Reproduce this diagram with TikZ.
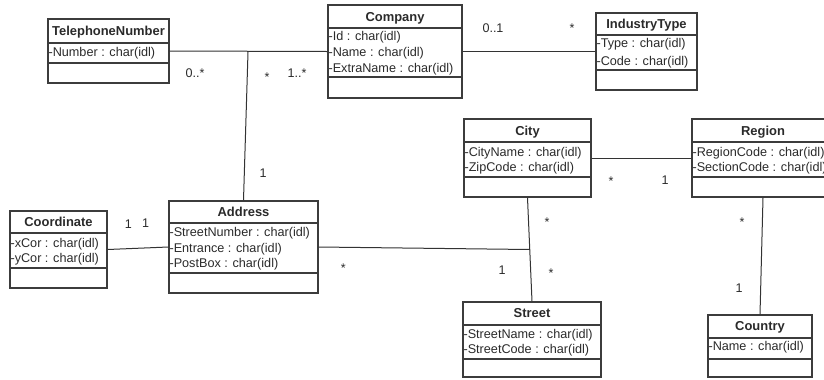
\documentclass[tikz,border=0pt]{standalone}
\usepackage{fontspec}
\setmainfont{Liberation Sans}
\usetikzlibrary{fit,calc}
\definecolor{boxgray}{HTML}{3C3C3C}
\definecolor{linegray}{HTML}{333333}
\definecolor{txt}{HTML}{2A2A2A}
\begin{document}
\begin{tikzpicture}[x=1bp,y=-1bp,
  classbox/.style={draw=boxgray, line width=1.3bp, inner sep=0pt},
  sepline/.style={draw=boxgray, line width=1.2bp},
  title/.style={font=\fontsize{13}{15}\selectfont\bfseries, text=txt, anchor=base, inner sep=0pt},
  attr/.style={font=\fontsize{12.7}{14}\selectfont, text=txt, anchor=base west, inner sep=0pt},
  mult/.style={font=\fontsize{12.6}{14}\selectfont, text=txt, anchor=base, inner sep=0pt},
  assoc/.style={draw=linegray, line width=1bp}]
\clip (0,0) rectangle (824,379);

% ---------- classes: frame, title, compartments, attributes ----------
% TelephoneNumber
\node[classbox, fit={(48,19) (169,83)}] (tel) {};
\node[title] (telT) at (tel.north |- 0,35.5) {TelephoneNumber};
\draw[sepline] (tel.west |- 0,43) -- (tel.east |- 0,43);
\draw[sepline] (tel.west |- 0,63) -- (tel.east |- 0,63);
\node[attr] (telA1) at ($(tel.west |- 0,56.5)+(1,0)$) {-Number : char(idl)};

% Company
\node[classbox, fit={(328,5) (462,98)}] (company) {};
\node[title] (companyT) at (company.north |- 0,21) {Company};
\draw[sepline] (company.west |- 0,28) -- (company.east |- 0,28);
\draw[sepline] (company.west |- 0,77) -- (company.east |- 0,77);
\node[attr] (companyA1) at ($(company.west |- 0,40)+(1,0)$) {-Id : char(idl)};
\node[attr] (companyA2) at ($(company.west |- 0,56.5)+(1,0)$) {-Name : char(idl)};
\node[attr] (companyA3) at ($(company.west |- 0,72.5)+(1,0)$) {-ExtraName : char(idl)};

% IndustryType
\node[classbox, fit={(596,13) (697,90)}] (industry) {};
\node[title] (industryT) at (industry.north |- 0,28.5) {IndustryType};
\draw[sepline] (industry.west |- 0,35) -- (industry.east |- 0,35);
\draw[sepline] (industry.west |- 0,70) -- (industry.east |- 0,70);
\node[attr] (industryA1) at ($(industry.west |- 0,47.5)+(1,0)$) {-Type : char(idl)};
\node[attr] (industryA2) at ($(industry.west |- 0,65)+(1,0)$) {-Code : char(idl)};

% City
\node[classbox, fit={(464,119) (591,197)}] (city) {};
\node[title] (cityT) at (city.north |- 0,135) {City};
\draw[sepline] (city.west |- 0,142) -- (city.east |- 0,142);
\draw[sepline] (city.west |- 0,177) -- (city.east |- 0,177);
\node[attr] (cityA1) at ($(city.west |- 0,156.5)+(1,0)$) {-CityName : char(idl)};
\node[attr] (cityA2) at ($(city.west |- 0,171.5)+(1,0)$) {-ZipCode : char(idl)};

% Region (runs past the right edge)
\node[classbox, fit={(692,119) (834,197)}] (region) {};
\node[title] (regionT) at (region.north |- 0,135) {Region};
\draw[sepline] (region.west |- 0,142) -- (region.east |- 0,142);
\draw[sepline] (region.west |- 0,177) -- (region.east |- 0,177);
\node[attr] (regionA1) at ($(region.west |- 0,156.5)+(1,0)$) {-RegionCode : char(idl)};
\node[attr] (regionA2) at ($(region.west |- 0,171.5)+(1,0)$) {-SectionCode : char(idl)};

% Coordinate
\node[classbox, fit={(10,211) (107,288)}] (coord) {};
\node[title] (coordT) at (coord.north |- 0,226.5) {Coordinate};
\draw[sepline] (coord.west |- 0,233) -- (coord.east |- 0,233);
\draw[sepline] (coord.west |- 0,268) -- (coord.east |- 0,268);
\node[attr] (coordA1) at ($(coord.west |- 0,247)+(1,0)$) {-xCor : char(idl)};
\node[attr] (coordA2) at ($(coord.west |- 0,262.5)+(1,0)$) {-yCor : char(idl)};

% Address
\node[classbox, fit={(169,201) (318,293)}] (address) {};
\node[title] (addressT) at (address.north |- 0,216) {Address};
\draw[sepline] (address.west |- 0,223) -- (address.east |- 0,223);
\draw[sepline] (address.west |- 0,273) -- (address.east |- 0,273);
\node[attr] (addressA1) at ($(address.west |- 0,236.5)+(1,0)$) {-StreetNumber : char(idl)};
\node[attr] (addressA2) at ($(address.west |- 0,252)+(1,0)$) {-Entrance : char(idl)};
\node[attr] (addressA3) at ($(address.west |- 0,267)+(1,0)$) {-PostBox : char(idl)};

% Street
\node[classbox, fit={(463,302) (601,377)}] (street) {};
\node[title] (streetT) at (street.north |- 0,317) {Street};
\draw[sepline] (street.west |- 0,325) -- (street.east |- 0,325);
\draw[sepline] (street.west |- 0,359) -- (street.east |- 0,359);
\node[attr] (streetA1) at ($(street.west |- 0,338.5)+(1,0)$) {-StreetName : char(idl)};
\node[attr] (streetA2) at ($(street.west |- 0,353.5)+(1,0)$) {-StreetCode : char(idl)};

% Country
\node[classbox, fit={(708,315) (812,377)}] (country) {};
\node[title] (countryT) at (country.north |- 0,330.5) {Country};
\draw[sepline] (country.west |- 0,338) -- (country.east |- 0,338);
\draw[sepline] (country.west |- 0,359) -- (country.east |- 0,359);
\node[attr] (countryA1) at ($(country.west |- 0,350)+(1,0)$) {-Name : char(idl)};

% ---------- associations ----------
\coordinate (telJoin) at (248,52);
\draw[assoc] (tel.east) -- (company.west);
\draw[assoc] (telJoin) -- (address.north);
\draw[assoc] (company.east) -- (industry.west);
\draw[assoc] (city.east) -- (region.west);
\coordinate (streetJoin) at ($(city.south)!0.5!(street.north)$);
\draw[assoc] (city.south) -- (street.north);
\draw[assoc] (address.east) -- (streetJoin);
\draw[assoc] (coord.east) -- (address.west);
\draw[assoc] (region.south) -- (country.north);

% ---------- multiplicities ----------
\node[mult] (m1) at (195,77.3) {0..*};
\node[mult] (m2) at (267,81) {*};
\node[mult] (m3) at (297,77.3) {1..*};
\node[mult] (m4) at (263,177.5) {1};
\node[mult] (m5) at (493,32.6) {0..1};
\node[mult] (m6) at (572,32) {*};
\node[mult] (m7) at (611,185) {*};
\node[mult] (m8) at (665,184.3) {1};
\node[mult] (m9) at (547,226) {*};
\node[mult] (m10) at (502,274.3) {1};
\node[mult] (m11) at (551,277) {*};
\node[mult] (m12) at (742,226) {*};
\node[mult] (m13) at (739,292) {1};
\node[mult] (m14) at (128.3,228.6) {1};
\node[mult] (m15) at (145.7,227.6) {1};
\node[mult] (m16) at (343.3,272) {*};
\end{tikzpicture}
\end{document}
